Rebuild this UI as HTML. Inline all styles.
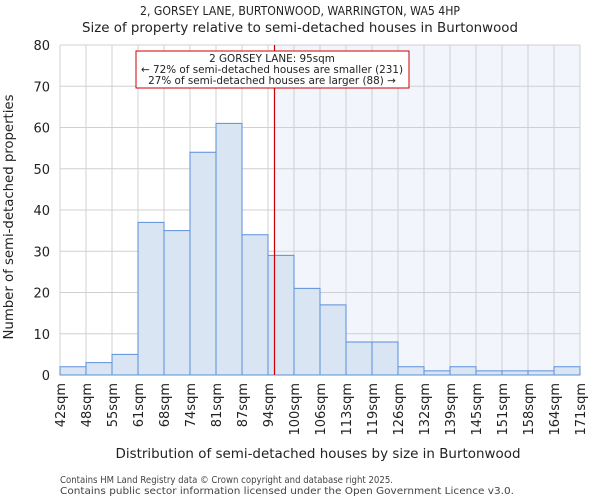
<!DOCTYPE html>
<html><head><meta charset="utf-8">
<style>body{margin:0;background:#fff;font-family:"DejaVu Sans","Liberation Sans",sans-serif}</style>
</head><body>
<svg id="chart" width="600" height="500" xmlns="http://www.w3.org/2000/svg" font-family="DejaVu Sans, Liberation Sans, sans-serif">
<text x="300" y="15" text-anchor="middle" font-size="12.5" fill="#222" textLength="320" lengthAdjust="spacingAndGlyphs">2, GORSEY LANE, BURTONWOOD, WARRINGTON, WA5 4HP</text>
<text x="300" y="32" text-anchor="middle" font-size="13" fill="#222" textLength="436" lengthAdjust="spacingAndGlyphs">Size of property relative to semi-detached houses in Burtonwood</text>
<g id="plot"></g>
<text x="318" y="458" text-anchor="middle" font-size="13" fill="#222" textLength="405" lengthAdjust="spacingAndGlyphs">Distribution of semi-detached houses by size in Burtonwood</text>
<text transform="translate(13,217) rotate(-90)" text-anchor="middle" font-size="13" fill="#222" textLength="245" lengthAdjust="spacingAndGlyphs">Number of semi-detached properties</text>
<text x="60" y="483" font-size="10" fill="#444" textLength="333" lengthAdjust="spacingAndGlyphs">Contains HM Land Registry data © Crown copyright and database right 2025.</text>
<text x="60" y="494" font-size="10" fill="#444" textLength="454" lengthAdjust="spacingAndGlyphs">Contains public sector information licensed under the Open Government Licence v3.0.</text>
</svg>
<script>
const binLabels=["42sqm","48sqm","55sqm","61sqm","68sqm","74sqm","81sqm","87sqm","94sqm","100sqm","106sqm","113sqm","119sqm","126sqm","132sqm","139sqm","145sqm","151sqm","158sqm","164sqm","171sqm"];
const counts=[2,3,5,37,35,54,61,34,29,21,17,8,8,2,1,2,1,1,1,2];
const yTicks=[0,10,20,30,40,50,60,70,80];
const markerBinPos=[8.25];
const NS="http://www.w3.org/2000/svg";
const X0=60,X1=580,Y0=375,Y1=45,YMAX=80;
const bw=(X1-X0)/counts.length;
const xs=i=>X0+i*bw;
const ys=v=>Y0-(v/YMAX)*(Y0-Y1);
const g=document.getElementById('plot');
function mk(t,a){const e=document.createElementNS(NS,t);for(const k in a)e.setAttribute(k,a[k]);g.appendChild(e);return e;}
const mx=xs(markerBinPos[0]);
let e=mk('rect',{x:mx,y:Y1,width:X1-mx,height:Y0-Y1,fill:'#f2f5fc'});


yTicks.forEach(t=>{
 let l=mk('line',{x1:X0,x2:X1,y1:ys(t),y2:ys(t),stroke:'#d0d0d0','stroke-width':1});
 
 
 let tx=mk('text',{x:X0-10,y:ys(t)+5,'text-anchor':'end','font-size':13,fill:'#222'});
 tx.textContent=t;
 
 
});
binLabels.forEach((lb,i)=>{
 let l=mk('line',{x1:xs(i),x2:xs(i),y1:Y1,y2:Y0,stroke:'#d0d0d0','stroke-width':1});
 
 
 let tx=mk('text',{x:0,y:0,'text-anchor':'end','font-size':13,fill:'#222',transform:`translate(${xs(i)+5},${Y0+8}) rotate(-90)`});
 tx.textContent=lb;
 
 
});
counts.forEach((c,i)=>{
 let r=mk('rect',{x:xs(i),y:ys(c),width:bw,height:Y0-ys(c),fill:'#dae5f4',stroke:'#5b8fd9','stroke-width':1});
 
 
});
let ml=mk('line',{x1:mx,x2:mx,y1:Y1,y2:Y0,stroke:'#cc0000','stroke-width':1.2});


let box=mk('rect',{x:136,y:51,width:273,height:37,fill:'#fff',stroke:'#cc0000','stroke-width':1});


["2 GORSEY LANE: 95sqm","← 72% of semi-detached houses are smaller (231)","27% of semi-detached houses are larger (88) →"].forEach((s,i)=>{
 let t=mk('text',{x:272,y:62+i*11,'text-anchor':'middle','font-size':10.4,fill:'#222'});
 t.textContent=s;
 
 
});
</script>
</body></html>
